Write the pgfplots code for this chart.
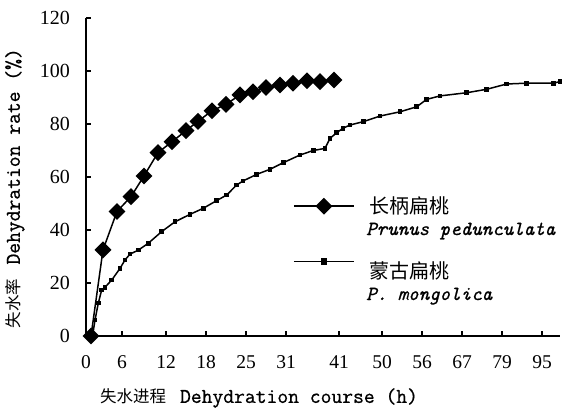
\documentclass[border=0pt]{standalone}
\usepackage{fontspec}
\usepackage{pgfplots}
\pgfplotsset{compat=1.18}
\newfontfamily\cjk{Noto Sans CJK SC}
\newfontfamily\tmono{Latin Modern Mono}[FakeBold=0.8]
\newfontfamily\tnum{Liberation Serif}
\begin{document}
\begin{tikzpicture}
\useasboundingbox (-86bp,-72bp) rectangle (481bp,336bp);
\begin{axis}[
  scale only axis,
  width=474bp, height=318bp,
  xmin=0, xmax=474, ymin=0, ymax=120,
  axis x line*=bottom, axis y line*=left,
  axis line style={line width=2.2bp},
  tick align=inside,
  major tick length=5bp,
  tick style={line width=1.6bp, black},
  xtick={0,36,80,120,160,200,253,296,336,376,416,456},
  xticklabels={0,6,12,18,25,31,41,50,56,67,79,95},
  ytick={0,20,40,60,80,100,120},
  /pgf/number format/assume math mode=true,
  xticklabel style={font=\tnum\fontsize{19.5bp}{22bp}\selectfont, anchor=center, inner sep=0pt, yshift=-26bp},
  yticklabel style={font=\tnum\fontsize{20bp}{24bp}\selectfont, anchor=east, inner sep=0pt, xshift=-16bp},
  clip=false,
  xlabel={{\cjk\fontsize{16.5bp}{20bp}\selectfont 失水进程}\hspace{14bp}{\tmono\fontsize{21bp}{24bp}\selectfont Dehydration course (h)}},
  xlabel style={at={(axis description cs:0.365,-0.195)}, anchor=center, inner sep=0pt},
  ylabel={{\cjk\fontsize{16.5bp}{20bp}\selectfont 失水率}\hspace{14bp}{\tmono\fontsize{21bp}{24bp}\selectfont Dehydration rate (\%)}},
  ylabel style={at={(axis description cs:-0.15,0.465)}, anchor=center, inner sep=0pt},
  legend image code/.code={\draw[mark repeat=2,mark phase=2,#1] plot coordinates {(0bp,0bp) (30bp,0bp) (60bp,0bp)};},
  legend style={draw=none, fill=none, at={(axis description cs:0.4367,0.4497)}, anchor=north west,
    inner sep=0pt, row sep=42bp, column sep=13bp,
    cells={anchor=base west, inner sep=0pt, text height=18bp, text depth=6bp},
    font=\cjk\fontsize{20bp}{24bp}\selectfont},
]
\addplot[black, line width=1.5bp, mark=square*, mark size=5.2bp, mark options={rotate=45, solid},
  legend image post style={yshift=7bp}] coordinates {
(5,0) (17,32.5) (31,47) (45,52.6) (58,60.4) (72,69.2) (86,73.3) (100,77.5) (112,81)
(126,85) (140,87.4) (154,91) (167,92.2) (180,93.8) (194,94.7) (207,95.4) (221,96.3)
(234,96) (248,96.6)
};
\addlegendentry{长柄扁桃}
\addplot[black, line width=1.5bp, mark=square*, mark size=1.6bp,
  legend image post style={yshift=17bp, mark size=2.6bp}] coordinates {
(6.7,0.4) (9,6) (12.3,12.4) (15.7,17.4) (19,18.4) (25.7,21.1) (34,25.5) (39,28.7)
(44,30.9) (52.3,32.4) (62.3,35) (75.7,39.4) (89,43.1) (104,45.9) (117.3,48.2)
(130.7,51.1) (140.7,53.2) (150.7,57) (157,58.5) (170.7,61) (184,62.9) (197.3,65.4)
(214,68.3) (227.3,70) (239,70.8) (244,74.6) (250.7,76.7) (257,78.4) (264,79.6)
(277.3,80.9) (294,83) (314,84.6) (330.7,86.5) (340.7,89.3) (354,90.6) (380.7,91.8)
(400.7,93.1) (420.7,95.1) (440.7,95.4) (467.3,95.4) (474,96)
};
\addlegendentry{蒙古扁桃}
\node[anchor=base west, inner sep=0pt, font=\tmono\itshape\fontsize{20bp}{24bp}\selectfont]
  at (axis description cs:0.5907,0.3176) {Prunus pedunculata};
\node[anchor=base west, inner sep=0pt, font=\tmono\itshape\fontsize{20bp}{24bp}\selectfont]
  at (axis description cs:0.5907,0.1132) {P. mongolica};
\end{axis}
\end{tikzpicture}
\end{document}
